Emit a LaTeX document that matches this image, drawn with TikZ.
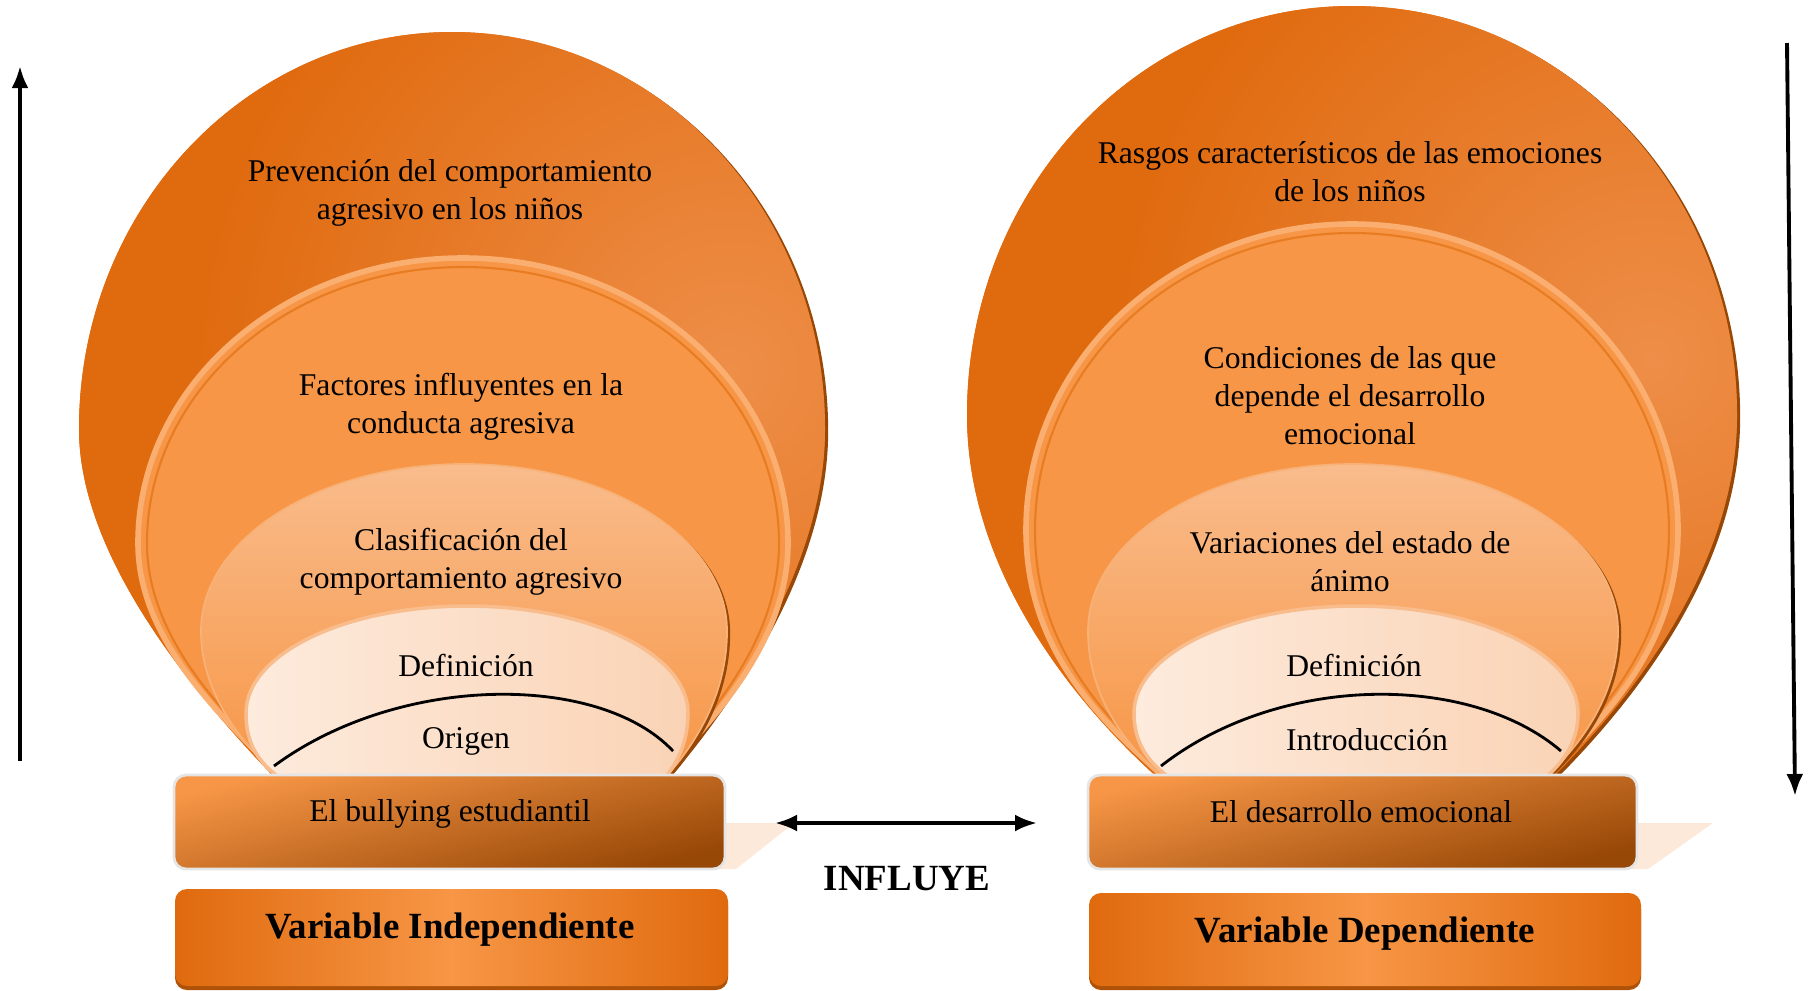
\documentclass[tikz,border=0pt]{standalone}
\usepackage{fontspec}
\setmainfont{Liberation Serif}
\usetikzlibrary{arrows.meta}
\definecolor{naranjaosc}{HTML}{E06A0E}
\definecolor{naranjabrillo}{HTML}{EE8E48}
\definecolor{naranja}{HTML}{F79646}
\definecolor{naranjaborde}{HTML}{FAAE70}
\definecolor{naranjalinea}{HTML}{E77C22}
\definecolor{salmon}{HTML}{F9BC8C}
\definecolor{crema}{HTML}{FDEBDD}
\definecolor{durazno}{HTML}{FAD3B5}
\definecolor{cafe}{HTML}{974706}
\definecolor{reflejo}{HTML}{FDE9D9}
\pgfdeclareradialshading{brillo}{\pgfpoint{0bp}{0bp}}{color(0bp)=(naranjabrillo); color(15bp)=(naranjaosc); color(50bp)=(naranjaosc)}
\begin{document}
\begin{tikzpicture}[x=0.01cm,y=-0.01cm,
    every node/.style={font=\fontsize{9}{10.8}\selectfont,align=center,inner sep=0pt},
    titulo/.style={font=\bfseries\fontsize{10.5}{12.6}\selectfont},
    punta/.tip={Latex[length=2.2mm,width=1.7mm]},
    flecha/.style={line width=1.1pt},
    sombra/.style={fill=cafe,xshift=0.9pt,yshift=-0.6pt},
    anillo/.style={fill=naranja,draw=naranjaborde,line width=1.6pt},
    borde/.style={naranjalinea,line width=0.6pt},
    nivel/.style={top color=salmon,bottom color=naranja,draw=salmon!70!naranja,line width=0.5pt},
    nucleo/.style={left color=crema,right color=durazno,draw=salmon,line width=1pt},
    caja/.style={rounded corners=1.2mm,top color=naranja,bottom color=cafe,shading angle=14,draw=white!90!black,line width=0.8pt},
    cajavar/.style={rounded corners=1.2mm,left color=naranjaosc,right color=naranjaosc,middle color=naranja}]
  \useasboundingbox (0,0) rectangle (1809,990);

  \path[sombra] (79,429) arc (180:360:373 and 397) .. controls (825,560) and (740,690) .. (665,778)
    -- (275,778) .. controls (200,700) and (79,560) .. cycle;
  \path[fill=naranjaosc,path picture={\shade[shading=brillo] (730,370) circle (900);}]
    (79,429) arc (180:360:373 and 397) .. controls (825,560) and (740,690) .. (665,778)
    -- (275,778) .. controls (200,700) and (79,560) .. cycle;
  \path[anillo] (138,543) arc (180:360:325 and 285) .. controls (788,650) and (700,730) .. (660,778)
    -- (280,778) .. controls (240,730) and (138,650) .. cycle;
  \draw[borde] (285,778) .. controls (245,730) and (147,650) .. (147,543)
    arc (180:360:316 and 276) .. controls (779,650) and (695,730) .. (655,778);
  \path[sombra] (201,631) arc (180:360:263 and 167) .. controls (727,700) and (690,750) .. (665,778)
    -- (280,778) .. controls (250,750) and (201,700) .. cycle;
  \path[nivel] (201,631) arc (180:360:263 and 167) .. controls (727,700) and (690,750) .. (665,778)
    -- (280,778) .. controls (250,750) and (201,700) .. cycle;
  \path[nucleo] (246,713) arc (180:360:221 and 107) .. controls (688,745) and (675,765) .. (665,778)
    -- (280,778) .. controls (255,760) and (246,740) .. cycle;
  \draw[line width=0.8pt] (274,766) .. controls (400,673) and (600,673) .. (673,751);

  \path[sombra] (967,415) arc (180:360:385 and 409) .. controls (1737,560) and (1640,690) .. (1552,778)
    -- (1158,778) .. controls (1060,690) and (967,560) .. cycle;
  \path[fill=naranjaosc,path picture={\shade[shading=brillo] (1650,360) circle (900);}]
    (967,415) arc (180:360:385 and 409) .. controls (1737,560) and (1640,690) .. (1552,778)
    -- (1158,778) .. controls (1060,690) and (967,560) .. cycle;
  \path[anillo] (1026,530) arc (180:360:326 and 306) .. controls (1678,650) and (1600,720) .. (1545,778)
    -- (1165,778) .. controls (1100,720) and (1026,650) .. cycle;
  \draw[borde] (1170,778) .. controls (1108,720) and (1035,650) .. (1035,530)
    arc (180:360:317 and 297) .. controls (1669,650) and (1593,720) .. (1540,778);
  \path[sombra] (1088,631) arc (180:360:265 and 167) .. controls (1618,700) and (1575,750) .. (1545,778)
    -- (1165,778) .. controls (1130,750) and (1088,700) .. cycle;
  \path[nivel] (1088,631) arc (180:360:265 and 167) .. controls (1618,700) and (1575,750) .. (1545,778)
    -- (1165,778) .. controls (1130,750) and (1088,700) .. cycle;
  \path[nucleo] (1134,713) arc (180:360:222 and 107) .. controls (1578,745) and (1560,765) .. (1545,778)
    -- (1170,778) .. controls (1145,760) and (1134,740) .. cycle;
  \draw[line width=0.8pt] (1161,766) .. controls (1280,673) and (1470,673) .. (1561,751);

  \fill[reflejo] (715,823) -- (794,823) -- (736,869) -- (715,869) -- cycle;
  \fill[reflejo] (1630,823) -- (1713,823) -- (1648,869) -- (1630,869) -- cycle;
  \path[caja] (174,775) rectangle (725,869);
  \path[caja] (1088,775) rectangle (1637,869);
  \fill[cafe!70!naranjaosc,rounded corners=1.2mm] (175,893) rectangle (728,990);
  \path[cajavar] (175,889) rectangle (728,986);
  \fill[cafe!70!naranjaosc,rounded corners=1.2mm] (1089,897) rectangle (1641,990);
  \path[cajavar] (1089,893) rectangle (1641,986);

  \node (prevencion) at (450,193) {Prevención del comportamiento\\agresivo en los niños};
  \node (factores) at (461,407) {Factores influyentes en la\\conducta agresiva};
  \node (clasificacion) at (461,562) {Clasificación del\\comportamiento agresivo};
  \node (definicion-i) at (466,665) {Definición};
  \node (origen) at (466,741) {Origen};
  \node (bullying) at (450,814) {El bullying estudiantil};
  \node[titulo] (independiente) at (450,930) {Variable Independiente};

  \node (rasgos) at (1350,172) {Rasgos característicos de las emociones\\de los niños};
  \node (condiciones) at (1350,396) {Condiciones de las que\\depende el desarrollo\\emocional};
  \node (variaciones) at (1350,562) {Variaciones del estado de\\ánimo};
  \node (definicion-d) at (1354,665) {Definición};
  \node (introduccion) at (1367,740) {Introducción};
  \node (desarrollo) at (1361,812) {El desarrollo emocional};
  \node[titulo] (dependiente) at (1365,934) {Variable Dependiente};

  \node[titulo] (influye) at (907,879) {INFLUYE};
  \coordinate (influye-i) at (775,823);
  \coordinate (influye-d) at (1037,823);
  \draw[flecha,punta-punta] (influye-i) -- (influye-d);

  \coordinate (sube-a) at (20,761);
  \coordinate (sube-b) at (20,66);
  \draw[flecha,-punta] (sube-a) -- (sube-b);
  \coordinate (baja-a) at (1787,43);
  \coordinate (baja-b) at (1795,796);
  \draw[flecha,-punta] (baja-a) -- (baja-b);
\end{tikzpicture}
\end{document}
